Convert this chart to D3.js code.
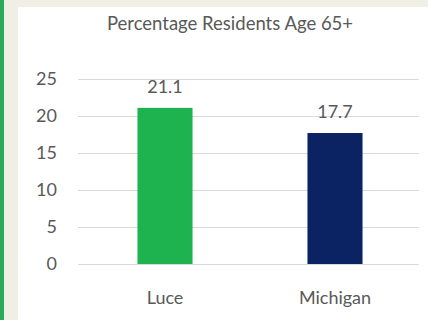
<!DOCTYPE html>
<html>
<head>
<meta charset="utf-8">
<script src="https://cdn.jsdelivr.net/npm/d3@7"></script>
<style>
  html, body { margin: 0; padding: 0; background: #fff; }
  svg { display: block; }
  text { font-family: Lato, "Open Sans", sans-serif; fill: #595959; }
</style>
</head>
<body>
<svg id="chart" width="428" height="320"></svg>
<script>
// Share of residents aged 65 and older, by area
const categories = ["Luce", "Michigan"];
const values = [21.1, 17.7];
const barColors = ["#1fb34f", "#0b2363"];
const yTicks = [0, 5, 10, 15, 20, 25];
const title = "Percentage Residents Age 65+";

const W = 428, H = 320;
const plot = { left: 78, right: 419, top: 79, bottom: 264 };

const svg = d3.select("#chart");

// frame: green edge, cream margins
svg.append("rect").attr("x", 0).attr("y", 0).attr("width", W).attr("height", H).attr("fill", "#ffffff");
svg.append("rect").attr("x", 0).attr("y", 0).attr("width", W).attr("height", 7).attr("fill", "#efefe4");
svg.append("rect").attr("x", 0).attr("y", 0).attr("width", 18).attr("height", H).attr("fill", "#efefe4");
svg.append("rect").attr("x", 0).attr("y", 0).attr("width", 4).attr("height", H).attr("fill", "#2aab5a");

const y = d3.scaleLinear().domain([0, 25]).range([plot.bottom, plot.top]);
const x = d3.scaleBand().domain(categories).range([plot.left + 2, plot.right + 1])
  .paddingInner(0.676).paddingOuter(0.338);

// gridlines + value axis
const yAxis = svg.append("g")
  .attr("transform", `translate(${plot.left},0)`)
  .call(d3.axisLeft(y).tickValues(yTicks).tickSize(-(plot.right - plot.left)).tickPadding(21).tickFormat(d3.format("d")));
yAxis.select(".domain").remove();
yAxis.selectAll(".tick line").attr("stroke", "#d9d9d9").attr("stroke-width", 1.2);
yAxis.selectAll(".tick text").attr("font-size", 18).style("fill", "#595959");

// bars
svg.append("g").selectAll("rect")
  .data(categories)
  .join("rect")
  .attr("x", d => x(d))
  .attr("width", x.bandwidth())
  .attr("y", (d, i) => y(values[i]))
  .attr("height", (d, i) => y(0) - y(values[i]))
  .attr("fill", (d, i) => barColors[i]);

// value labels
svg.append("g").selectAll("text")
  .data(categories)
  .join("text")
  .attr("x", d => x(d) + x.bandwidth() / 2)
  .attr("y", (d, i) => y(values[i]) - 15)
  .attr("text-anchor", "middle")
  .attr("font-size", 18)
  .text((d, i) => values[i].toFixed(1));

// category axis
const xAxis = svg.append("g")
  .attr("transform", `translate(0,${plot.bottom})`)
  .call(d3.axisBottom(x).tickSize(0).tickPadding(0));
xAxis.select(".domain").remove();
xAxis.selectAll(".tick text").attr("font-size", 18).attr("dy", null).attr("y", 40).style("fill", "#595959");

// title
svg.append("text")
  .attr("x", 230)
  .attr("y", 30)
  .attr("text-anchor", "middle")
  .attr("font-size", 18.5)
  .text(title);
</script>
</body>
</html>
